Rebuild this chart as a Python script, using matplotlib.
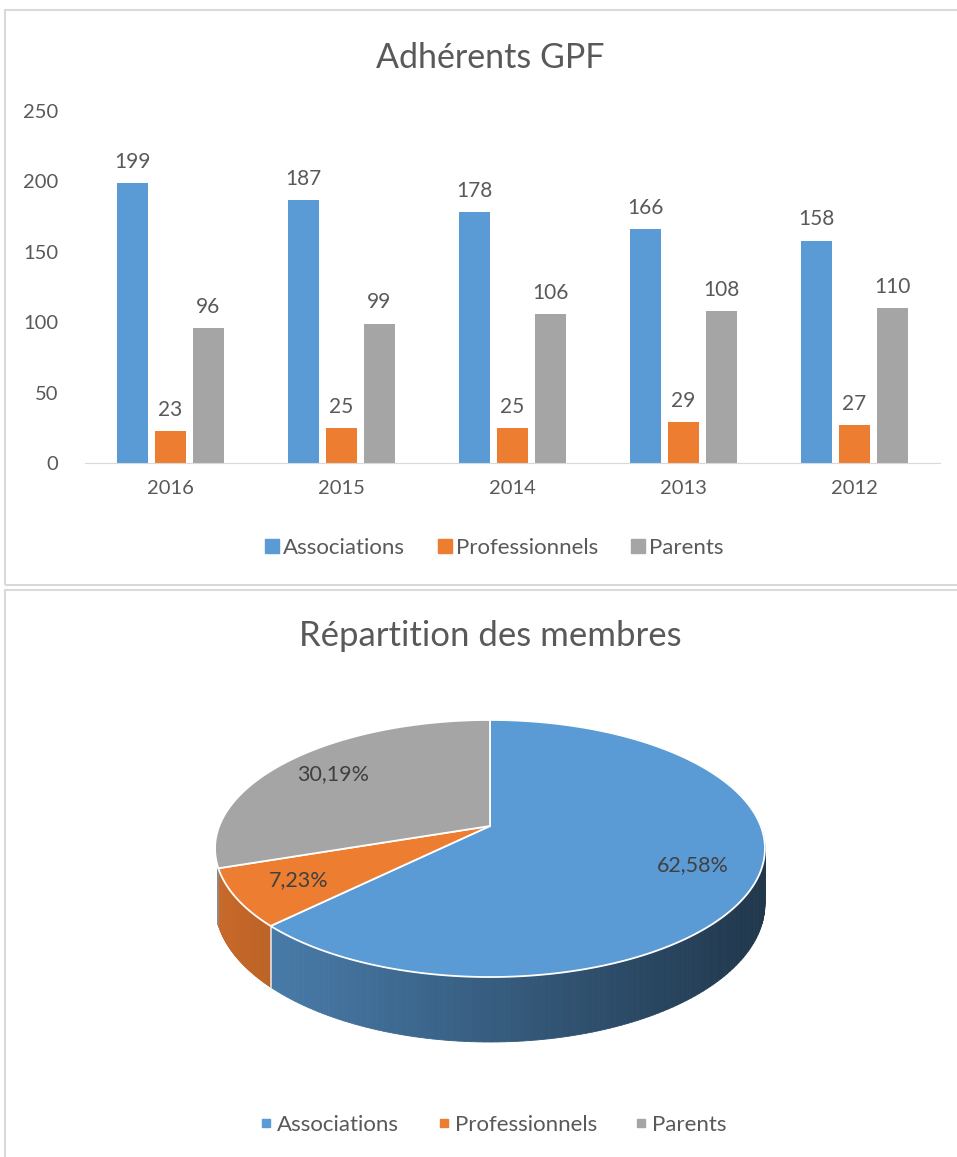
import numpy as np
import matplotlib.pyplot as plt
from matplotlib.patches import Rectangle, Polygon
from matplotlib.lines import Line2D

plt.rcParams['font.family'] = ['Lato', 'DejaVu Sans']

years = ['2016', '2015', '2014', '2013', '2012']
associations = [199, 187, 178, 166, 158]
professionnels = [23, 25, 25, 29, 27]
parents = [96, 99, 106, 108, 110]
series_names = ['Associations', 'Professionnels', 'Parents']
colors = ['#5B9BD5', '#ED7D31', '#A5A5A5']

pie_names = ['Associations', 'Professionnels', 'Parents']
pie_pct = [62.58, 7.23, 30.19]

W, H = 957, 1157
txt = '#595959'

fig = plt.figure(figsize=(W / 100, H / 100), dpi=100)

def fx(px):
    return px / W

def fy(py):
    return 1 - py / H

# chart frames
for top, bot in [(10, 585), (590, 1165)]:
    fig.patches.append(Rectangle((fx(5), fy(bot)), fx(970 - 5), (bot - top) / H,
                                 transform=fig.transFigure, fill=False,
                                 edgecolor='#d9d9d9', linewidth=1.5))

# ---- bar chart ----
ax = fig.add_axes([fx(85), fy(463), fx(940 - 85), (463 - 111) / H])
x = np.arange(len(years))
for i, (vals, c) in enumerate(zip([associations, professionnels, parents], colors)):
    bars = ax.bar(x + (i - 1) * 0.22, vals, width=0.18, color=c, label=series_names[i])
    for b, v in zip(bars, vals):
        ax.annotate(str(v), (b.get_x() + b.get_width() / 2, v), xytext=(0, 8),
                    textcoords='offset points', ha='center', va='bottom',
                    fontsize=15, color=txt)
ax.set_xlim(-0.5, 4.5)
ax.set_ylim(0, 250)
ax.set_yticks([0, 50, 100, 150, 200, 250])
ax.set_xticks(x)
ax.set_xticklabels(years)
ax.tick_params(length=0, labelsize=14.5, colors=txt)
ax.tick_params(axis='y', pad=19)
ax.tick_params(axis='x', pad=12)
for s in ['top', 'right', 'left']:
    ax.spines[s].set_visible(False)
ax.spines['bottom'].set_color('#d9d9d9')
fig.text(fx(490), fy(58), 'Adhérents GPF', ha='center', va='center', fontsize=24.5, color=txt)
handles = [Line2D([], [], marker='s', linestyle='', markersize=10, color=c) for c in colors]
fig.legend(handles, series_names, loc='center', bbox_to_anchor=(fx(492), fy(548)), ncol=3,
           frameon=False, fontsize=16, labelcolor=txt, handletextpad=0.0,
           columnspacing=1.3, handlelength=1.0)

# ---- 3D pie ----
pax = fig.add_axes([fx(190), fy(1060), fx(600), 360 / H])
pax.set_xlim(-300, 300)
pax.set_ylim(-234, 126)
pax.axis('off')
RX, RY, K, DEPTH = 270.7, 124.6, 0.175, 53.6

def proj(t):
    t = np.radians(t)
    d = 1 + K * np.sin(t)
    return RX * np.cos(t) / d, RY * np.sin(t) / d, DEPTH / d

starts = 90 - 3.6 * np.concatenate([[0], np.cumsum(pie_pct)[:-1]])
ends = starts - 3.6 * np.array(pie_pct)

# visible part of the side wall (front of the disc)
vis_lo = -162

# side walls
for s, e, c in zip(starts, ends, colors):
    lo, hi = max(e, vis_lo), min(s, 0)
    if hi <= lo:
        continue
    base = np.array(plt.matplotlib.colors.to_rgb(c))
    ts = np.linspace(lo, hi, 120)
    for a, b in zip(ts[:-1], ts[1:]):
        xa, ya, da = proj(a)
        xb, yb, db = proj(b)
        u = ((xa + xb) / 2 / RX + 1) / 2
        f = 0.84 - 0.48 * u
        pax.add_patch(Polygon([(xa, ya), (xb, yb), (xb, yb - db), (xa, ya - da)],
                              closed=True, facecolor=base * f, edgecolor=base * f,
                              linewidth=0.6))
    # white line where two slices meet on the side
    if vis_lo < e < 0 and e > vis_lo + 2:
        xt, yt, dt = proj(e)
        pax.plot([xt, xt], [yt, yt - dt], color='white', lw=1.2, alpha=0.8)

# top face
for s, e, c in zip(starts, ends, colors):
    ts = np.linspace(s, e, 200)
    px, py, _ = proj(ts)
    pts = [(0, 0)] + list(zip(px, py))
    pax.add_patch(Polygon(pts, closed=True, facecolor=c, edgecolor='white', linewidth=1.3))

# labels
for s, e, p in zip(starts, ends, pie_pct):
    m = np.radians((s + e) / 2)
    r = 0.77
    d = 1 + K * r * np.sin(m)
    lx, ly = RX * r * np.cos(m) / d, RY * r * np.sin(m) / d
    pax.text(lx, ly, f'{p:.2f}%'.replace('.', ','), ha='center', va='center',
             fontsize=15.5, color='#404040')

fig.text(fx(490), fy(636), 'Répartition des membres', ha='center', va='center',
         fontsize=25, color=txt)
handles2 = [Line2D([], [], marker='s', linestyle='', markersize=6, color=c) for c in colors]
fig.legend(handles2, pie_names, loc='center', bbox_to_anchor=(fx(492), fy(1125)), ncol=3,
           frameon=False, fontsize=16, labelcolor=txt, handletextpad=0.1,
           columnspacing=1.6, handlelength=0.8)

fig.savefig('out.png', dpi=100)
